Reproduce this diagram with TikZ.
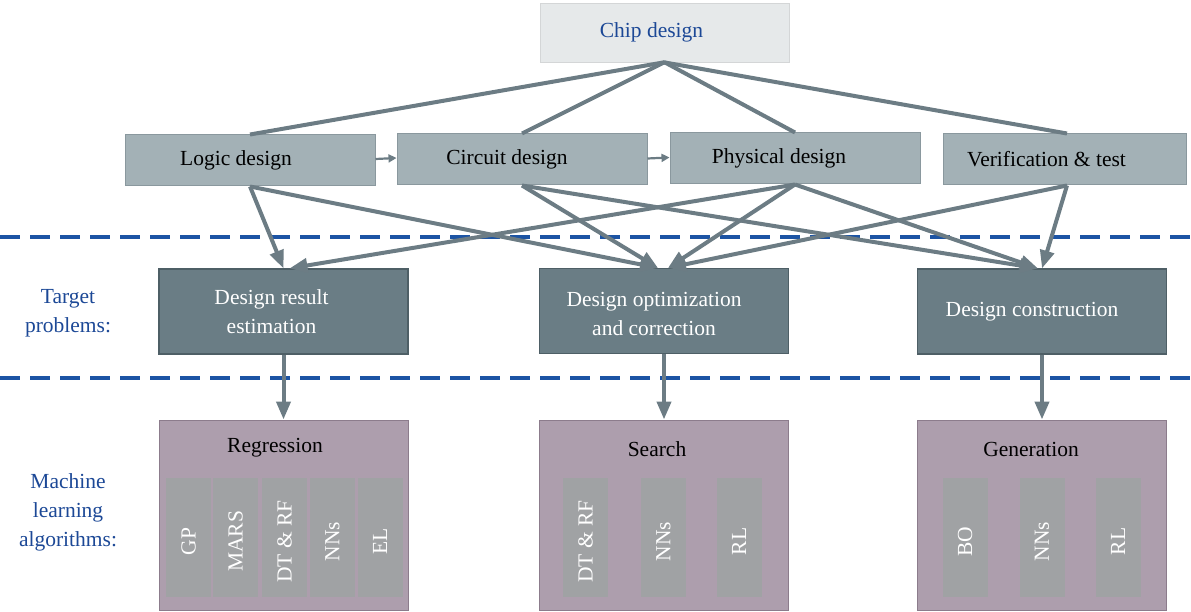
\documentclass[tikz,border=0pt]{standalone}
\usepackage{fontspec}
\setmainfont{Liberation Serif}
\usetikzlibrary{arrows.meta}
\definecolor{chipfill}{RGB}{230,233,234}
\definecolor{titleblue}{RGB}{28,72,150}
\definecolor{stagefill}{RGB}{163,177,182}
\definecolor{stageedge}{RGB}{138,152,158}
\definecolor{probfill}{RGB}{106,125,133}
\definecolor{probedge}{RGB}{78,95,102}
\definecolor{mlfill}{RGB}{173,158,173}
\definecolor{mledge}{RGB}{140,124,140}
\definecolor{stripfill}{RGB}{160,162,164}
\definecolor{linkcol}{RGB}{108,124,132}
\definecolor{sepblue}{RGB}{28,84,164}

\begin{document}
\begin{tikzpicture}[x=1pt,y=-1pt,
  every node/.style={font=\fontsize{21.5}{29}\selectfont},
  chipbox/.style={fill=chipfill, draw=chipfill!92!black, line width=0.5pt,
    minimum width=249pt, minimum height=59pt, inner sep=0},
  stagebox/.style={fill=stagefill, draw=stageedge, line width=1pt,
    minimum width=250pt, minimum height=51pt, inner sep=0},
  probbox/.style={fill=probfill, draw=probedge, line width=1.2pt,
    minimum width=249pt, minimum height=85pt, inner sep=0},
  mlbox/.style={fill=mlfill, draw=mledge, line width=1pt,
    minimum width=249pt, minimum height=190pt, inner sep=0},
  strip/.style={fill=stripfill, minimum width=45pt, minimum height=119pt, inner sep=0},
  striptext/.style={text=white, rotate=90, inner sep=0},
  lighttext/.style={text=white, align=center},
  darktext/.style={text=black, align=center},
  sidetext/.style={text=titleblue, align=center},
  link/.style={draw=linkcol, line width=4pt},
  arr/.style={link, -{Triangle[length=18pt,width=14pt]}},
  flow/.style={draw=linkcol, line width=2.2pt, -{Triangle[length=8pt,width=8pt]}},
  sep/.style={draw=sepblue, line width=4.5pt, dash pattern=on 20pt off 10pt}
]
\useasboundingbox (0,0) rectangle (1191,612);

% separators between the three levels
\draw[sep] (0,237) -- (1191,237);
\draw[sep] (0,378) -- (1191,378);

% root
\node[chipbox] (chip) at (664.5,32.5) {};
\node[text=titleblue] at ([xshift=-13pt]chip.center) {Chip design};

% design stages
\node[stagebox] (logic) at (250,160.5) {};
\node[stagebox] (circuit) at (522,159.5) {};
\node[stagebox] (physical) at (795,158.5) {};
\node[stagebox, minimum width=243pt] (verif) at (1064.5,159.5) {};
\node[darktext] at ([xshift=-14pt]logic.center) {Logic design};
\node[darktext] at ([xshift=-15pt]circuit.center) {Circuit design};
\node[darktext] at ([xshift=-16pt]physical.center) {Physical design};
\node[darktext] at ([xshift=-18pt]verif.center) {Verification \& test};

% target problems
\node[probbox] (dre) at (283.5,311.5) {};
\node[probbox] (doc) at (664,311) {};
\node[probbox] (dc) at (1042,311.5) {};
\node[lighttext] at ([xshift=-12pt]dre.center) {Design result\\estimation};
\node[lighttext] at ([xshift=-10pt,yshift=-3pt]doc.center) {Design optimization\\and correction};
\node[lighttext] at ([xshift=-10pt]dc.center) {Design construction};

% machine learning algorithm groups
\node[mlbox] (reg) at (283.5,515) {};
\node[mlbox] (search) at (664,515) {};
\node[mlbox] (gen) at (1042,515) {};
\node[darktext] at (275,448) {Regression};
\node[darktext] at (657,449) {Search};
\node[darktext] at (1031,449) {Generation};

\foreach \x/\t [count=\i] in {188.5/GP, 235.5/MARS, 284.5/DT \& RF, 332.5/NNs, 380/EL}{
  \node[strip] (r\i) at (\x,537.5) {};
  \node[striptext] at ([yshift=-4pt]r\i.center) {\t};
}
\foreach \x/\t [count=\i] in {585.5/DT \& RF, 663.5/NNs, 739/RL}{
  \node[strip] (s\i) at (\x,537.5) {};
  \node[striptext] at ([yshift=-4pt]s\i.center) {\t};
}
\foreach \x/\t [count=\i] in {965/BO, 1042/NNs, 1118/RL}{
  \node[strip] (g\i) at (\x,537.5) {};
  \node[striptext] at ([yshift=-4pt]g\i.center) {\t};
}

% side labels
\node[sidetext] (tplabel) at (68,313) {Target\\problems:};
\node[sidetext] (mllabel) at (68,512) {Machine\\learning\\algorithms:};

% root to stages
\draw[link] (chip.south) -- (logic.north);
\draw[link] (chip.south) -- (circuit.north);
\draw[link] (chip.south) -- (physical.north);
\draw[link] ([xshift=-1pt]chip.south) -- ([xshift=2.5pt]verif.north);

% flow between stages
\draw[flow] ([yshift=1.5pt]logic.east) -- ([yshift=1.5pt]circuit.west);
\draw[flow] ([yshift=1pt]circuit.east) -- ([yshift=1pt]physical.west);

% stages to target problems
\draw[arr] (logic.south) -- (dre.north);
\draw[arr] (logic.south) -- ([xshift=-6pt]doc.north);
\draw[arr] (circuit.south) -- ([xshift=-6pt]doc.north);
\draw[arr] (circuit.south) -- ([xshift=-4pt]dc.north);
\draw[arr] (physical.south) -- ([xshift=6pt]dre.north);
\draw[arr] (physical.south) -- ([xshift=4pt]doc.north);
\draw[arr] (physical.south) -- ([xshift=-4pt]dc.north);
\draw[arr] ([xshift=2.5pt]verif.south) -- ([xshift=4pt]doc.north);
\draw[arr] ([xshift=2.5pt]verif.south) -- (dc.north);

% target problems to algorithm groups
\draw[arr] (dre.south) -- (reg.north);
\draw[arr] (doc.south) -- (search.north);
\draw[arr] (dc.south) -- (gen.north);
\end{tikzpicture}
\end{document}
